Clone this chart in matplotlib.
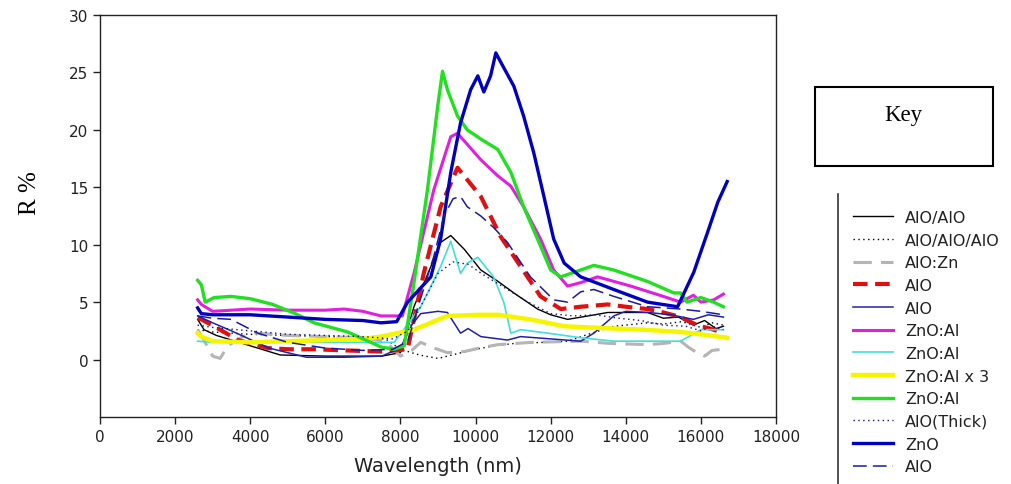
import matplotlib
matplotlib.use("Agg")
import matplotlib.pyplot as plt
from matplotlib.lines import Line2D
from matplotlib.patches import Rectangle

# ---------------- data ----------------
labels = ["AlO/AlO", "AlO/AlO/AlO", "AlO:Zn", "AlO", "AlO", "ZnO:Al", "ZnO:Al",
          "ZnO:Al x 3", "ZnO:Al", "AlO(Thick)", "ZnO", "AlO"]

x_alo_alo = [2600, 2770, 3100, 3500, 4200, 4800, 6000, 7500, 8000, 8360, 8810, 9070, 9340,
             9700, 10140, 10600, 11020, 11650, 12000, 12450, 13000, 13520, 14000, 14580,
             15000, 15400, 15800, 16100, 16400, 16600]
y_alo_alo = [3.5, 2.6, 2.1, 1.7, 1.0, 0.4, 0.3, 0.3, 0.6, 4.6, 8.1, 10.2, 10.8,
             9.6, 7.8, 6.8, 5.8, 4.4, 3.9, 3.5, 3.8, 4.1, 4.1, 4.1, 3.6, 3.7, 3.0, 3.4, 2.7, 2.9]

x_alo3 = [2600, 3000, 4000, 5000, 6000, 7000, 7600, 8000, 8500, 9000, 9500, 10000, 10500,
          11020, 11800, 12450, 13000, 13680, 14000, 14580, 15000, 15500, 16000, 16300, 16600]
y_alo3 = [2.6, 2.4, 2.2, 2.1, 2.0, 1.9, 1.8, 0.9, 0.4, 0.1, 0.5, 0.9, 1.2,
          1.4, 1.5, 1.6, 2.2, 2.9, 3.0, 3.2, 3.1, 3.3, 2.8, 3.2, 3.0]

x_alozn = [2600, 2800, 3000, 3200, 3400, 3800, 4130, 5000, 6000, 7000, 7600, 8000, 8300,
           8540, 8900, 9250, 9700, 10100, 10590, 11500, 12800, 13600, 14580, 15000, 15460,
           15700, 15900, 16100, 16300, 16600]
y_alozn = [2.6, 1.5, 0.3, 0.1, 1.2, 2.0, 2.3, 2.1, 2.0, 1.9, 1.6, 0.3, 0.8,
           1.5, 1.0, 0.6, 0.7, 1.0, 1.3, 1.5, 1.6, 1.4, 1.3, 1.4, 1.6,
           1.0, 0.6, 0.3, 0.8, 0.9]

x_alo_red = [2600, 2700, 3200, 3670, 4470, 5000, 5700, 6500, 7480, 7900, 8190, 8620, 9070,
             9520, 10140, 10670, 11200, 11730, 12270, 12800, 13520, 14000, 14580, 15000,
             15460, 15900, 16340, 16600]
y_alo_red = [3.6, 3.5, 2.6, 1.7, 1.0, 0.9, 0.9, 0.8, 0.7, 0.8, 0.9, 7.5, 13.3,
             16.7, 14.2, 10.7, 8.1, 5.5, 4.4, 4.6, 4.8, 4.6, 4.4, 4.1,
             3.7, 3.0, 2.6, 2.3]

x_alo_thin = [2600, 3000, 3500, 4500, 5500, 6500, 7500, 8000, 8300, 8540, 9000, 9250, 9600,
              9800, 10140, 10850, 11200, 12000, 12800, 13150, 13680, 14000, 14600, 15200,
              15800, 16200, 16600]
y_alo_thin = [3.8, 3.2, 2.5, 1.0, 0.2, 0.2, 0.3, 1.0, 3.0, 4.0, 4.2, 4.1, 2.3,
              2.7, 2.0, 1.7, 2.0, 1.8, 1.6, 2.3, 3.8, 4.2, 4.1, 3.9,
              3.5, 3.9, 3.7]

x_znoal_m = [2600, 2700, 3000, 4000, 5000, 6000, 6500, 7000, 7480, 8050, 8360, 8890, 9340,
             9520, 10140, 10590, 10940, 11280, 11730, 12080, 12450, 12800, 13250, 14130,
             15000, 15460, 15800, 16000, 16340, 16600]
y_znoal_m = [5.2, 4.8, 4.2, 4.4, 4.3, 4.3, 4.4, 4.2, 3.8, 3.8, 7.5, 14.8, 19.4,
             19.7, 17.4, 16.0, 15.1, 13.3, 10.5, 7.8, 6.4, 6.7, 7.2, 6.4,
             5.5, 5.0, 5.6, 5.0, 5.2, 5.7]

x_znoal_c = [2600, 3000, 4000, 5000, 6000, 7000, 7830, 8540, 9070, 9340, 9600, 9780, 10060,
             10480, 10750, 10940, 11200, 11920, 12800, 13680, 14580, 15460, 16000, 16600]
y_znoal_c = [1.6, 1.5, 1.6, 1.6, 1.5, 1.5, 1.5, 4.6, 8.1, 10.3, 7.5, 8.4, 8.9,
             7.2, 5.0, 2.3, 2.6, 2.3, 1.9, 1.6, 1.6, 1.6, 2.6, 2.6]

x_znoal3 = [2600, 2700, 3000, 4000, 5000, 6000, 7000, 7480, 8360, 9250, 10140, 10590,
            11460, 12360, 13680, 14500, 15460, 16000, 16700]
y_znoal3 = [2.3, 2.0, 1.6, 1.5, 1.6, 1.7, 1.8, 2.0, 2.6, 3.8, 3.9, 3.9,
            3.5, 2.9, 2.7, 2.6, 2.4, 2.2, 1.9]

x_znoal_g = [2600, 2700, 2800, 3040, 3490, 4000, 4600, 5200, 5700, 6600, 7480, 7830, 8100,
             8360, 8720, 8990, 9120, 9250, 9520, 9780, 10140, 10590, 10940, 11280, 11650,
             12000, 12270, 12800, 13150, 13680, 14580, 15280, 15460, 15630, 16000, 16340, 16600]
y_znoal_g = [6.9, 6.5, 5.0, 5.4, 5.5, 5.3, 4.8, 4.0, 3.2, 2.4, 1.1, 0.9, 1.2,
             6.7, 14.8, 22.0, 25.1, 23.5, 21.2, 20.0, 19.2, 18.3, 16.3, 13.3, 10.5,
             7.8, 7.2, 7.8, 8.2, 7.8, 6.8, 5.8, 5.8, 5.0, 5.4, 5.0, 4.6]

x_alo_thick = [2600, 3000, 4000, 5000, 6000, 7000, 7800, 8200, 8600, 9000, 9400, 9800,
               10200, 10800, 11400, 12000, 12600, 13200, 13800, 14400, 15000, 15600,
               16000, 16300, 16600]
y_alo_thick = [3.0, 2.8, 2.5, 2.2, 2.1, 2.0, 1.8, 2.5, 5.0, 7.5, 8.5, 8.3,
               7.4, 6.2, 5.0, 4.0, 3.8, 3.9, 3.6, 3.4, 3.0, 2.9, 2.5, 2.9, 2.6]

x_zno = [2600, 2700, 3000, 4000, 5000, 6000, 7000, 7480, 7900, 8190, 8810, 9070, 9340,
         9600, 9870, 10060, 10220, 10400, 10540, 10670, 11020, 11280, 11550, 11820, 12080,
         12360, 12800, 13680, 14580, 15380, 15810, 16180, 16450, 16700]
y_zno = [4.5, 4.0, 3.9, 3.9, 3.7, 3.5, 3.4, 3.2, 3.3, 5.0, 7.2, 10.5, 16.3,
         20.6, 23.5, 24.7, 23.3, 24.7, 26.7, 25.9, 23.8, 21.2, 18.0, 14.2, 10.5,
         8.4, 7.2, 6.1, 5.0, 4.6, 7.6, 11.1, 13.7, 15.5]

x_alo_dash = [2600, 3000, 3490, 4200, 5000, 6000, 7000, 7800, 8200, 8450, 8890, 9160, 9400,
              9600, 9780, 10140, 10480, 10850, 11460, 12080, 12450, 12800, 13150, 13680,
              14580, 15460, 16000, 16600]
y_alo_dash = [3.8, 3.6, 3.5, 2.3, 1.5, 1.0, 0.8, 0.9, 1.6, 4.4, 9.0, 12.5, 14.0,
              14.2, 13.3, 12.5, 11.5, 10.2, 7.2, 5.2, 5.0, 5.9, 6.1, 5.5,
              4.6, 4.4, 4.2, 3.9]

x_ticks = [0, 2000, 4000, 6000, 8000, 10000, 12000, 14000, 16000, 18000]
y_ticks = [0, 5, 10, 15, 20, 25, 30]

series = [
    (x_alo_alo, y_alo_alo, dict(color="black", lw=1.0, ls="-")),
    (x_alo3, y_alo3, dict(color="black", lw=1.0, ls=(0, (1, 2.5)))),
    (x_alozn, y_alozn, dict(color="#b5b5b5", lw=2.2, ls=(0, (6, 3)))),
    (x_alo_red, y_alo_red, dict(color="#e01010", lw=3.0, ls=(0, (3.5, 1.8)))),
    (x_alo_thin, y_alo_thin, dict(color="#2020b0", lw=1.1, ls="-")),
    (x_znoal_m, y_znoal_m, dict(color="#e020e0", lw=2.2, ls="-")),
    (x_znoal_c, y_znoal_c, dict(color="#40dede", lw=1.2, ls="-")),
    (x_znoal3, y_znoal3, dict(color="#f5f500", lw=3.2, ls="-")),
    (x_znoal_g, y_znoal_g, dict(color="#20e020", lw=2.4, ls="-")),
    (x_alo_thick, y_alo_thick, dict(color="#101090", lw=1.0, ls=(0, (1, 2.5)))),
    (x_zno, y_zno, dict(color="#0000c0", lw=2.4, ls="-")),
    (x_alo_dash, y_alo_dash, dict(color="#1a1aa0", lw=1.1, ls=(0, (9, 4)))),
]

# ---------------- figure ----------------
fig = plt.figure(figsize=(10.11, 4.85), dpi=100)
ax = fig.add_axes([100 / 1011, 1 - 418 / 485, 676 / 1011, 402 / 485])

handles = []
for xs, ys, st in series:
    h, = ax.plot(xs, ys, **st)
    handles.append(h)

ax.set_xlim(0, 18000)
ax.set_ylim(-5, 30)
ax.set_xticks(x_ticks)
ax.set_yticks(y_ticks)
ax.tick_params(direction="out", length=5, width=1, labelsize=11, colors="#222222")
for sp in ax.spines.values():
    sp.set_linewidth(1.0)
    sp.set_color("#222222")

ax.set_xlabel("Wavelength (nm)", fontsize=14, family="DejaVu Sans", color="#222222", labelpad=9)
fig.text(30 / 1011, 1 - 193 / 485, "R %", rotation=90, fontsize=18, family="Liberation Serif",
         ha="center", va="center")

# Key box
fig.patches.append(Rectangle((815 / 1011, 1 - 167 / 485), 178 / 1011, 79 / 485,
                             transform=fig.transFigure, fill=False, lw=1.5, ec="black"))
fig.text(903 / 1011, 1 - 116 / 485, "Key", fontsize=16.5, family="Liberation Serif",
         ha="center", va="center")

# legend with left vertical rule
fig.add_artist(Line2D([838 / 1011, 838 / 1011], [1 - 195 / 485, 0], transform=fig.transFigure,
                      color="#333333", lw=1.2))
leg = fig.legend(handles, labels, loc="upper left", bbox_to_anchor=(845 / 1011, 1 - 203 / 485),
                 frameon=False, prop={"family": "DejaVu Sans", "size": 11.5},
                 handlelength=2.5, handletextpad=0.75, labelspacing=0.48, borderpad=0,
                 labelcolor="#222222")

fig.savefig("out.png", dpi=100)
